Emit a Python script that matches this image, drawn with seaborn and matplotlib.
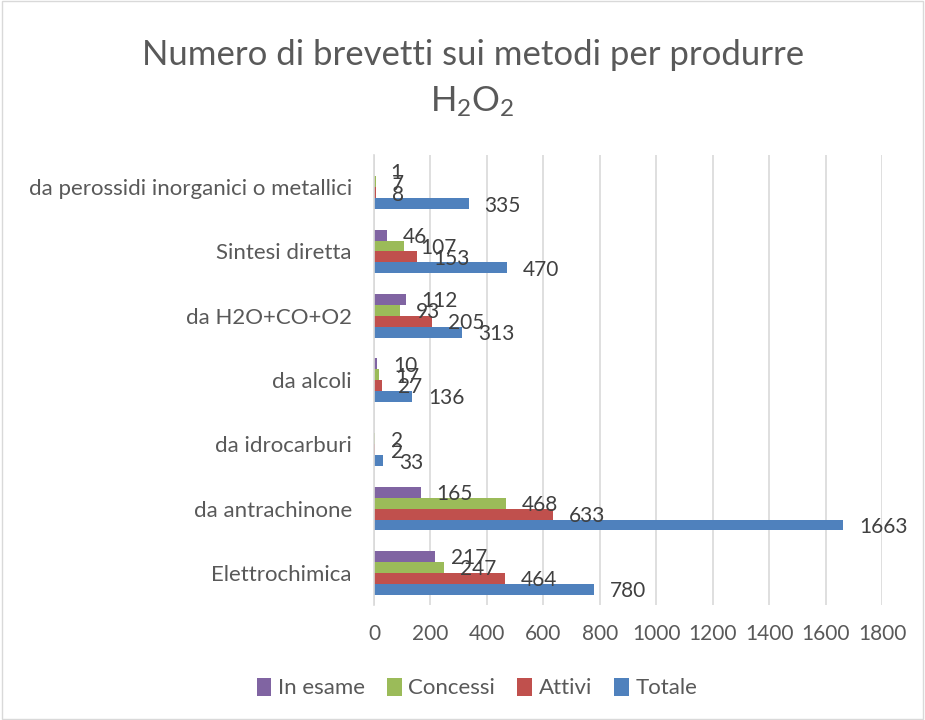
import numpy as np
import pandas as pd
import matplotlib
matplotlib.use("Agg")
import matplotlib.pyplot as plt
import seaborn as sns
from matplotlib.patches import Rectangle

categories = ["da perossidi inorganici o metallici", "Sintesi diretta", "da H2O+CO+O2",
              "da alcoli", "da idrocarburi", "da antrachinone", "Elettrochimica"]
series = ["In esame", "Concessi", "Attivi", "Totale"]
in_esame = [1, 46, 112, 10, np.nan, 165, 217]
concessi = [7, 107, 93, 17, 2, 468, 247]
attivi = [8, 153, 205, 27, 2, 633, 464]
totale = [335, 470, 313, 136, 33, 1663, 780]
colors = ["#8064A2", "#9BBB59", "#C0504D", "#4F81BD"]
xticks = [0, 200, 400, 600, 800, 1000, 1200, 1400, 1600, 1800]

values = {"In esame": in_esame, "Concessi": concessi, "Attivi": attivi, "Totale": totale}
rows = []
for s in series:
    for c, v in zip(categories, values[s]):
        rows.append({"cat": c, "serie": s, "val": v})
df = pd.DataFrame(rows)

sns.set_theme(style="white")
plt.rcParams["font.family"] = ["Lato", "DejaVu Sans"]
plt.rcParams["mathtext.default"] = "regular"
txt = "#595959"

fig = plt.figure(figsize=(9.25, 7.2), dpi=100)
ax = fig.add_axes([374 / 925, 1 - 605 / 720, (882 - 374) / 925, (605 - 155) / 720])

sns.barplot(data=df, y="cat", x="val", hue="serie", order=categories, hue_order=series,
            palette=colors, orient="h", width=0.68, ax=ax, saturation=1, legend=True,
            edgecolor="none")

for cont, s in zip(ax.containers, series):
    vals = values[s]
    for bar in cont:
        y = bar.get_y() + bar.get_height() / 2
        idx = int(round(y))
        v = vals[idx]
        if np.isnan(v):
            continue
        ax.annotate(f"{int(v)}", (bar.get_width(), y), xytext=(16, -2),
                    textcoords="offset pixels", ha="left", va="center",
                    fontsize=15, color="#404040", annotation_clip=False)

ax.set_xlim(0, 1800)
ax.set_xticks(xticks)
ax.set_xticklabels([str(t) for t in xticks])
ax.set_xlabel("")
ax.set_ylabel("")
ax.grid(axis="x", color="#D9D9D9", linewidth=1.2)
ax.grid(axis="y", visible=False)
ax.set_axisbelow(True)
for sp in ["top", "right", "bottom"]:
    ax.spines[sp].set_visible(False)
ax.spines["left"].set_color("#D9D9D9")
ax.spines["left"].set_linewidth(1.2)
ax.tick_params(axis="x", length=0, pad=14, labelsize=15, labelcolor=txt)
ax.tick_params(axis="y", length=0, pad=16, labelsize=16, labelcolor=txt)

handles, labels = ax.get_legend_handles_labels()
ax.legend_.remove()
fig.legend(handles, labels, loc="center", bbox_to_anchor=(477 / 925, 1 - 688 / 720),
           ncol=4, frameon=False, fontsize=16, labelcolor=txt, handlelength=0.65,
           handleheight=0.9, handletextpad=0.3, columnspacing=1.0)

fig.text(0.511, 1 - 55 / 720, "Numero di brevetti sui metodi per produrre",
         ha="center", va="center", fontsize=25, color=txt)
fig.text(0.511, 1 - 102 / 720, "H$_2$O$_2$", ha="center", va="center", fontsize=25, color=txt)

fig.patches.append(Rectangle((0.002, 0.002), 0.996, 0.996, transform=fig.transFigure,
                             fill=False, edgecolor="#D9D9D9", linewidth=1))

fig.savefig("out.png", dpi=100)
